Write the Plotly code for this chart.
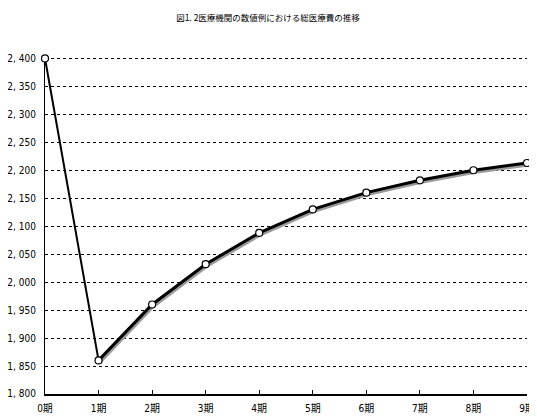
import plotly.graph_objects as go

periods = ["0期", "1期", "2期", "3期", "4期", "5期", "6期", "7期", "8期", "9期"]
total_cost = [2400, 1860, 1960, 2032, 2088, 2130, 2160, 2182, 2200, 2213]
y_ticks = [1800, 1850, 1900, 1950, 2000, 2050, 2100, 2150, 2200, 2250, 2300, 2350, 2400]
title_text = "図1. 2医療機関の数値例における総医療費の推移"

FONT = "DejaVu Sans Condensed, Noto Sans CJK JP, sans-serif"
x_idx = list(range(len(periods)))
Y_RANGE = [1800, 2402.5]

fig = go.Figure()

# invisible trace to establish the visible axes
fig.add_trace(go.Scatter(x=x_idx, y=total_cost, mode="lines",
                         line=dict(color="rgba(0,0,0,0)", width=0),
                         hoverinfo="skip", showlegend=False))

# shadow of the rising part (drawn on shifted hidden axes)
fig.add_trace(go.Scatter(
    x=x_idx[1:], y=total_cost[1:], mode="lines",
    line=dict(color="#9a9a9a", width=3.5),
    xaxis="x2", yaxis="y2", hoverinfo="skip", showlegend=False, cliponaxis=False))

# first segment (thinner)
fig.add_trace(go.Scatter(
    x=x_idx[:2], y=total_cost[:2], mode="lines", xaxis="x3", yaxis="y3",
    line=dict(color="black", width=2), showlegend=False, cliponaxis=False))

# main line
fig.add_trace(go.Scatter(
    x=x_idx[1:], y=total_cost[1:], mode="lines", xaxis="x3", yaxis="y3",
    line=dict(color="black", width=3), showlegend=False, cliponaxis=False))

# markers
fig.add_trace(go.Scatter(
    x=x_idx, y=total_cost, mode="markers", xaxis="x3", yaxis="y3",
    marker=dict(symbol="circle", size=7, color="white",
                line=dict(color="black", width=1.2)),
    showlegend=False, cliponaxis=False))

hidden = dict(visible=False, showgrid=False, zeroline=False)
fig.update_layout(
    width=529, height=410,
    margin=dict(l=37, r=10, t=49, b=22),
    paper_bgcolor="white", plot_bgcolor="rgba(0,0,0,0)",
    font=dict(family=FONT, size=10, color="black"),
    title=dict(text=title_text, x=0.4915, xanchor="center", y=0.976, yanchor="middle",
               font=dict(family="Noto Sans CJK JP", size=8.5, color="black")),
    xaxis=dict(
        range=[0, 9], tickvals=x_idx, ticktext=periods, automargin=False,
        showgrid=False, zeroline=False, showline=True, linecolor="black", linewidth=1.5,
        ticks="inside", ticklen=4, tickcolor="black", tickwidth=1, ticklabelstandoff=4,
        tickfont=dict(family=FONT, size=10), domain=[0, 1]),
    yaxis=dict(
        range=Y_RANGE, tickvals=y_ticks, automargin=False,
        ticktext=[f"{v:,}".replace(",", ", ") for v in y_ticks],
        showgrid=True, gridcolor="black", gridwidth=1, griddash="dot",
        zeroline=False, showline=True, linecolor="black", linewidth=1.2,
        ticks="", ticklabelstandoff=6,
        tickfont=dict(family=FONT, size=10), domain=[0.006, 1]),
    xaxis2=dict(range=[0, 9], anchor="y2", domain=[0.002, 1.0], **hidden),
    yaxis2=dict(range=Y_RANGE, anchor="x2", domain=[0, 0.994], **hidden),
    xaxis3=dict(range=[0, 9], anchor="y3", domain=[0, 1], **hidden),
    yaxis3=dict(range=Y_RANGE, anchor="x3", domain=[0.006, 1], **hidden),
)

fig.write_html("out.html")
